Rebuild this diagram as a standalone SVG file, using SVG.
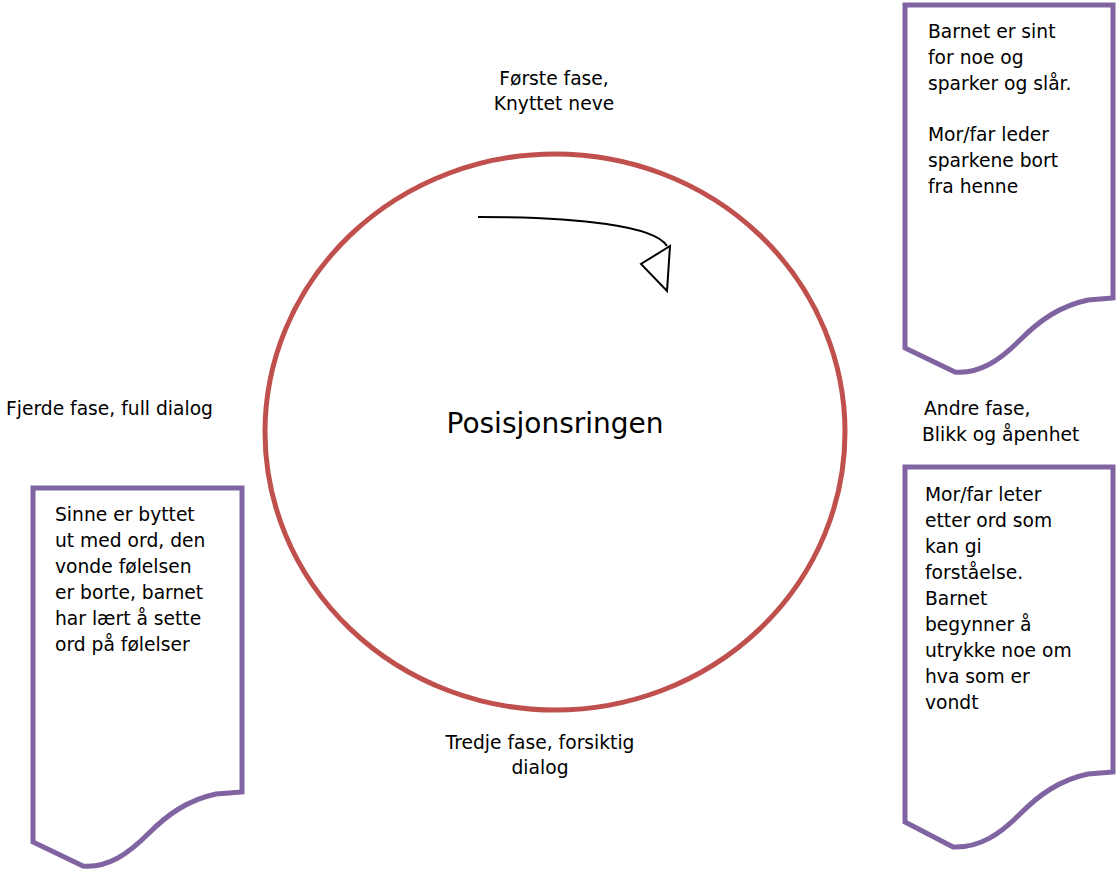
<svg xmlns="http://www.w3.org/2000/svg" width="1118" height="872" viewBox="0 0 1118 872">
<style>
text{font-family:"DejaVu Sans","Liberation Sans",sans-serif;font-size:18.7px;fill:#000}
.doc{fill:#fff;stroke:#8064A2;stroke-width:5}
.ring{fill:none;stroke:#C0504D;stroke-width:5}
.arr{fill:none;stroke:#000;stroke-width:2}
.c{text-anchor:middle}
</style>
<rect width="1118" height="872" fill="#fff"/>
<g id="ring">
<ellipse class="ring" cx="555" cy="432" rx="290" ry="278"/>
<text class="c" x="555" y="433" style="font-size:28px">Posisjonsringen</text>
</g>
<g id="connectors">
<path class="arr" d="M478,217 C580,217 655,226 667,246"/>
<polygon class="arr" points="670,246 641,264 667,291"/>
</g>
<g id="label-forste">
<text class="c" x="554" y="85">Første fase,</text>
<text class="c" x="554" y="110">Knyttet neve</text>
</g>
<g id="label-andre">
<text x="924" y="415">Andre fase,</text>
<text x="922" y="441">Blikk og åpenhet</text>
</g>
<g id="label-tredje">
<text class="c" x="540" y="749">Tredje fase, forsiktig</text>
<text class="c" x="540" y="774">dialog</text>
</g>
<g id="label-fjerde">
<text x="6" y="415">Fjerde fase, full dialog</text>
</g>
<g id="doc1">
<path class="doc" d="M905,5 L1113,5 L1113,298 L1088,300 C1060,306 1040,320 1020,340 C1000,360 980,374 955,372 L905,348 Z"/>
<text x="928" y="38">Barnet er sint</text>
<text x="928" y="64">for noe og</text>
<text x="928" y="90">sparker og slår.</text>
<text x="928" y="141">Mor/far leder</text>
<text x="928" y="167">sparkene bort</text>
<text x="928" y="193">fra henne</text>
</g>
<g id="doc2">
<path class="doc" d="M905,467 L1113,467 L1113,772 L1088,774 C1060,780 1040,794 1020,814 C1000,834 980,848 953,847 L905,822 Z"/>
<text x="925" y="501">Mor/far leter</text>
<text x="925" y="527">etter ord som</text>
<text x="925" y="553">kan gi</text>
<text x="925" y="579">forståelse.</text>
<text x="925" y="605">Barnet</text>
<text x="925" y="631">begynner å</text>
<text x="925" y="657">utrykke noe om</text>
<text x="925" y="683">hva som er</text>
<text x="925" y="709">vondt</text>
</g>
<g id="doc3">
<path class="doc" d="M33,488 L242,488 L242,792 L216,794 C188,800 168,814 148,834 C128,854 108,868 83,866 L33,842 Z"/>
<text x="55" y="521">Sinne er byttet</text>
<text x="55" y="547">ut med ord, den</text>
<text x="55" y="573">vonde følelsen</text>
<text x="55" y="599">er borte, barnet</text>
<text x="55" y="625">har lært å sette</text>
<text x="55" y="651">ord på følelser</text>
</g>
</svg>
